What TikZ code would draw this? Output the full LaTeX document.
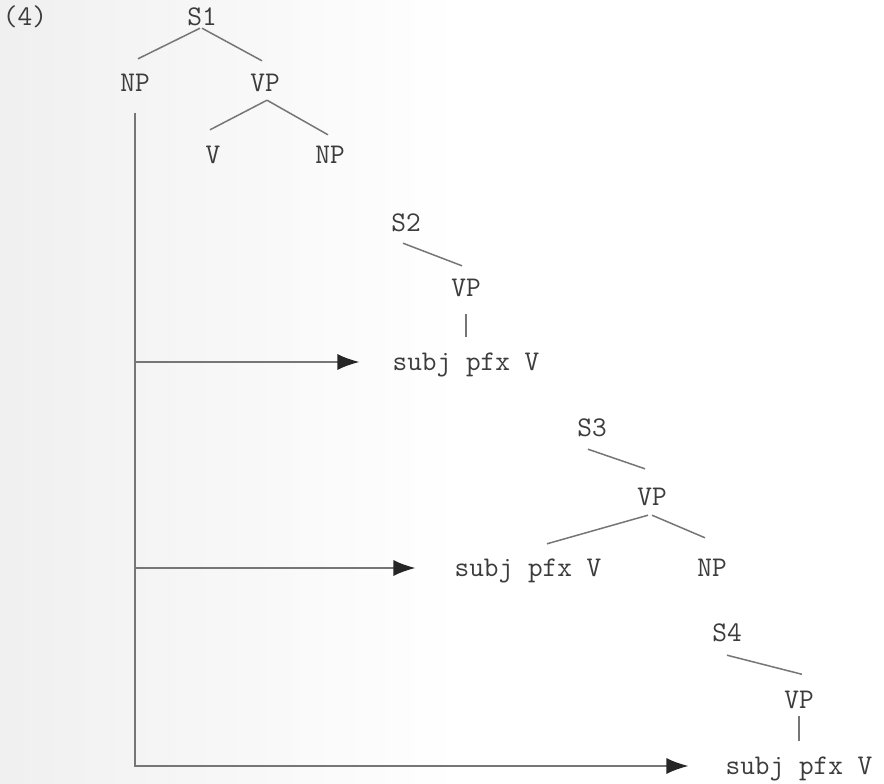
\documentclass[tikz,border=0pt]{standalone}
\usepackage{fontspec}
\usetikzlibrary{arrows.meta,calc}
\definecolor{inkgray}{RGB}{60,60,60}
\definecolor{linegray}{RGB}{118,118,118}

\begin{document}
\begin{tikzpicture}[x=1pt,y=-1pt,
        word/.style={font=\ttfamily\fontsize{28.5}{34}\selectfont, text=inkgray, inner sep=0pt, text height=17pt, text depth=0pt},
        branch/.style={draw=linegray, line width=1.5pt},
        arrow/.style={-{Latex[length=22pt,width=16pt,color=black!85]}, draw=linegray, line width=1.5pt}
    ]
    \fill[white] (0,0) rectangle (884,784);
    \shade[left color=black!6, right color=white] (0,0) rectangle (460,784);
    \useasboundingbox (0,0) rectangle (884,784);
    \node[word] (num) at (25,17) {(4)};
    \node[word] (s1) at (202,17) {S1};
    \node[word] (np1) at (135,83) {NP};
    \node[word] (vp1) at (265,83) {VP};
    \node[word] (v1) at (213,155) {V};
    \node[word] (np2) at (330,155) {NP};
    \node[word] (s2) at (406,223) {S2};
    \node[word] (vp2) at (466,288) {VP};
    \node[word] (sub2) at (466,362) {subj pfx V};
    \node[word] (s3) at (592,428) {S3};
    \node[word] (vp3) at (652,497) {VP};
    \node[word] (sub3) at (528,568) {subj pfx V};
    \node[word] (np3) at (712,568) {NP};
    \node[word] (s4) at (727,633) {S4};
    \node[word] (vp4) at (799,700) {VP};
    \node[word] (sub4) at (799,766) {subj pfx V};
    \draw[branch] ([shift={(-2pt,-2.5pt)}]s1.south) -- ([shift={(3pt,15.5pt)}]np1.north);
    \draw[branch] ([yshift=-2.5pt]s1.south) -- ([shift={(-3pt,13.5pt)}]vp1.north);
    \draw[branch] ([shift={(2pt,-8.5pt)}]vp1.south) -- ([shift={(-3pt,16.5pt)}]v1.north);
    \draw[branch] ([shift={(2pt,-8.5pt)}]vp1.south) -- ([shift={(-2pt,11.5pt)}]np2.north);
    \draw[branch] ([shift={(-3pt,-11.5pt)}]s2.south) -- ([shift={(-4pt,13.5pt)}]vp2.north);
    \draw[branch] ([yshift=-17pt]vp2.south) -- ([yshift=16pt]sub2.north);
    \draw[branch] ([shift={(-4pt,-12.5pt)}]s3.south) -- ([shift={(-7pt,19.5pt)}]vp3.north);
    \draw[branch] ([shift={(-4pt,-9.5pt)}]vp3.south) -- ([shift={(19pt,15.5pt)}]sub3.north);
    \draw[branch] ([yshift=-9.5pt]vp3.south) -- ([shift={(-7pt,21.5pt)}]np3.north);
    \draw[branch] ([yshift=-13.5pt]s4.south) -- ([shift={(3pt,17pt)}]vp4.north);
    \draw[branch] ([yshift=-7.5pt]vp4.south) -- ([yshift=16pt]sub4.north);
    \draw[arrow, shorten >=37pt] ([yshift=-21pt]np1.south) -- (np1 |- sub4) -- (sub4);
    \draw[arrow, shorten >=33pt] (np1 |- sub2) -- (sub2);
    \draw[arrow, shorten >=39pt] (np1 |- sub3) -- (sub3);
    \end{tikzpicture}
\end{document}
